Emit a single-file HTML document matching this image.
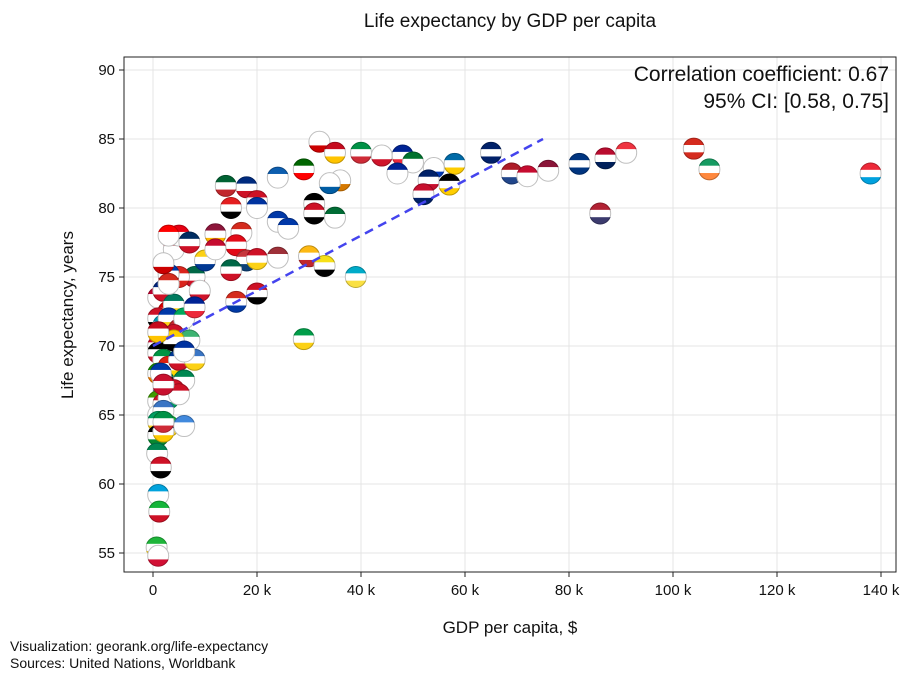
<!DOCTYPE html>
<html><head><meta charset="utf-8"><style>
body{margin:0;background:#fff;font-family:"Liberation Sans",sans-serif;}
svg text{font-family:"Liberation Sans",sans-serif;fill:#111;}
</style></head><body>
<svg id="chart" width="913" height="682">
<defs><clipPath id="cc" clipPathUnits="objectBoundingBox"><circle cx="0.5" cy="0.5" r="0.5"/></clipPath></defs>
<text x="510" y="27" text-anchor="middle" font-size="19">Life expectancy by GDP per capita</text>
<g id="grid"></g>
<g id="axes"></g>
<g id="pts"></g>
<line id="trend" stroke="#4444ee" stroke-width="2.5" stroke-dasharray="9,6"/>
<rect x="124" y="57" width="772" height="515" fill="none" stroke="#222" stroke-width="1"/>
<text x="889" y="81" text-anchor="end" font-size="21">Correlation coefficient: 0.67</text>
<text x="889" y="108" text-anchor="end" font-size="21">95% CI: [0.58, 0.75]</text>
<text x="510" y="633" text-anchor="middle" font-size="17">GDP per capita, $</text>
<text transform="translate(73,315) rotate(-90)" text-anchor="middle" font-size="17">Life expectancy, years</text>
<text x="10" y="651" font-size="14">Visualization: georank.org/life-expectancy</text>
<text x="10" y="668" font-size="14">Sources: United Nations, Worldbank</text>
</svg>
<script>
const xTicks=[0,20,40,60,80,100,120,140];
const xTickLabels=["0","20 k","40 k","60 k","80 k","100 k","120 k","140 k"];
const yTicks=[55,60,65,70,75,80,85,90];
const trendX=[0,75];
const trendY=[70,85];
const gdp=[32,35,40,44,48,50,58,65,82,87,91,104,107,138,86,69,72,76,54,53,57,52,47,36,34,29,24,18,14,20,20,15,31,31,35,24,26,17,12,16,18,20,24,30,33,39,29,20,16,8,5,3,4,5,3,7,10,12,15,
1,2,3,4,1,2,3,5,6,1,2,3,4,7,1,2,3,5,8,1,2,3,6,2,4,1,2,3,5,1,2,1,2,3,6,1,2,0.8,1.5,1,1.2,0.7,1,1.5,2,4,6,3,2,1,2,9,8];
const life=[84.8,84,84,83.8,83.8,83.3,83.2,84,83.2,83.6,84,84.3,82.8,82.5,79.6,82.5,82.3,82.7,82.9,82,81.7,81,82.5,82,81.8,82.8,82.2,81.5,81.6,80.5,80,80,80.3,79.6,79.3,79,78.5,78.2,78.1,77.3,76.2,76.3,76.4,76.5,75.8,75,70.5,73.8,73.2,75,75,75.2,77,78,78,77.5,76.2,77,75.5,
73.5,74,72.5,73,72,71.5,72,71.2,72,70,70.5,69.8,70.8,70.4,69.5,69,68.5,69,69,68,67.5,67,67.5,66.5,66.8,66,65.8,66.2,66.5,65,65.3,64.5,64,64.2,64.2,63.5,63.8,62.2,61.2,59.2,58,55.4,54.8,68,67.2,70.4,69.6,74.5,76,71,64.5,74,72.8];
const colors=[["#fff","#c00"],["#c60b1e","#ffc400"],["#009246","#ce2b37"],["#fff","#cf142b"],["#002395","#ed2939"],["#00732f","#fff"],["#006aa7","#fecc00"],["#012169","#012169"],["#003580","#003580"],["#ba0c2f","#00205b"],["#ef3340","#fff"],["#d52b1e","#d52b1e"],["#169b62","#ff883e"],["#ed2939","#00a1de"],["#b22234","#3c3b6e"],["#ae1c28","#21468b"],["#c60c30","#fff"],["#8a1538","#fff"],["#fff","#0038b8"],["#012169","#c8102e"],["#000","#ffce00"],["#c8102e","#012169"],["#002395","#fff"],["#fff","#d57800"],["#fff","#005da4"],["#006600","#f00"],["#0d5eaf","#fff"],["#002b7f","#ce1126"],["#006233","#c1272d"],["#ce1126","#fff"],["#0033a0","#fff"],["#e41e20","#000"],["#000","#007a3d"],["#ce1126","#000"],["#006c35","#fff"],["#0038a8","#fff"],["#0038a8","#fff"],["#d52b1e","#fff"],["#8d153a","#ffb700"],["#e30a17","#e30a17"],["#c6363c","#0c4076"],["#ce1126","#fcd116"],["#9e3039","#fff"],["#fdb913","#c1272d"],["#f7e017","#000"],["#00abc9","#fae042"],["#009e49","#fcd116"],["#ce1126","#000"],["#d52b1e","#0039a6"],["#006847","#ce1126"],["#da251d","#da251d"],["#0038a8","#ce1126"],["#ce1126","#fff"],["#e70013","#fff"],["#fe0000","#fff"],["#002d62","#ce1126"],["#fcd116","#003893"],["#c60c30","#fff"],["#006847","#ce1126"],
["#bc002d","#fff"],["#00247d","#ce1126"],["#da0000","#239f40"],["#007a5e","#fcd116"],["#ce1126","#000"],["#0099b5","#1eb53a"],["#0038a8","#fcd116"],["#c4272f","#015197"],["#00a95c","#fff"],["#d21034","#000"],["#012169","#fff"],["#00843d","#fcd116"],["#ce1126","#002b7f"],["#3cb371","#fff"],["#000","#ce1126"],["#009543","#fcd116"],["#de2010","#ffd700"],["#003893","#ce1126"],["#3a75c4","#fcd116"],["#198a00","#ef7d00"],["#007a4d","#de3831"],["#000","#fcd116"],["#008751","#fff"],["#00209f","#d21034"],["#ce1126","#fff"],["#3e9a00","#fff"],["#ce1126","#000"],["#fcd116","#009e60"],["#ce1126","#fff"],["#fff","#e31b23"],["#3a75c4","#fff"],["#009e60","#fcd116"],["#0072c6","#fff"],["#14b53a","#fcd116"],["#4189dd","#fff"],["#000","#078930"],["#002664","#fecb00"],["#008751","#fff"],["#ce1126","#000"],["#00a3dd","#fff"],["#14b53a","#ce1126"],["#1eb53a","#fcd116"],["#fff","#d21034"],["#0038a8","#fff"],["#c8102e","#c8102e"],["#ffd100","#000"],["#0032a0","#fff"],["#d52b1e","#fff"]];
const NS='http://www.w3.org/2000/svg';
const L=124,R=896,T=57,B=572;
function xs(v){return 153+v*(881-153)/140;}
function ys(v){return 553-(v-55)*(553-70)/35;}
function mk(tag,attrs,parent){const e=document.createElementNS(NS,tag);for(const k in attrs)e.setAttribute(k,attrs[k]);parent.appendChild(e);return e;}
const grid=document.getElementById('grid'),axes=document.getElementById('axes'),pts=document.getElementById('pts');
xTicks.forEach((t,i)=>{const x=xs(t);
 const g=mk('line',{x1:x,x2:x,y1:T,y2:B,stroke:'#e4e4e4'},grid);
 
 
 const tk=mk('line',{x1:x,x2:x,y1:B,y2:B+5,stroke:'#222'},axes);
 
 
 const lb=mk('text',{x:x,y:B+23,'text-anchor':'middle','font-size':15},axes);lb.textContent=xTickLabels[i];
 
 });
yTicks.forEach(t=>{const y=ys(t);
 const g=mk('line',{x1:L,x2:R,y1:y,y2:y,stroke:'#e4e4e4'},grid);
 
 
 const tk=mk('line',{x1:L-5,x2:L,y1:y,y2:y,stroke:'#222'},axes);
 
 
 const lb=mk('text',{x:L-9,y:y+5,'text-anchor':'end','font-size':15},axes);lb.textContent=t;
 
 });
const r=11;
gdp.forEach((v,i)=>{const cx=xs(v),cy=ys(life[i]);const c=colors[i%colors.length];
 const g=mk('g',{'clip-path':'url(#cc)'},pts);
 
 
 mk('rect',{x:cx-r,y:cy-r,width:2*r,height:2*r/3+0.5,fill:c[0]},g);
 mk('rect',{x:cx-r,y:cy-r/3,width:2*r,height:2*r/3+0.5,fill:'#fff'},g);
 mk('rect',{x:cx-r,y:cy+r/3,width:2*r,height:2*r/3,fill:c[1]},g);
 mk('circle',{cx:cx,cy:cy,r:r-0.5,fill:'none',stroke:'rgba(0,0,0,0.25)'},pts);});
const tl=document.getElementById('trend');
tl.setAttribute('x1',xs(trendX[0]));tl.setAttribute('y1',ys(trendY[0]));
tl.setAttribute('x2',xs(trendX[1]));tl.setAttribute('y2',ys(trendY[1]));
</script>
</body></html>
